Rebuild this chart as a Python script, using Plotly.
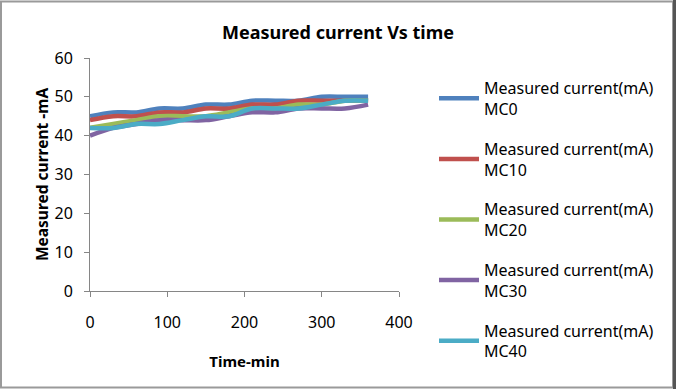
import plotly.graph_objects as go

time_min = [0, 30, 60, 90, 120, 150, 180, 210, 240, 270, 300, 330, 360]
mc0 = [45, 46, 46, 47, 47, 48, 48, 49, 49, 49, 50, 50, 50]
mc10 = [44, 45, 45, 46, 46, 47, 47, 48, 48, 49, 49, 49, 49]
mc20 = [42, 43, 44, 45, 45, 45, 46, 47, 47, 48, 48, 49, 49]
mc30 = [40, 42, 43, 44, 44, 44, 45, 46, 46, 47, 47, 47, 48]
mc40 = [42, 42, 43, 43, 44, 45, 45, 47, 47, 47, 48, 49, 49]

series_names = ["Measured current(mA)<br>MC0", "Measured current(mA)<br>MC10",
                "Measured current(mA)<br>MC20", "Measured current(mA)<br>MC30",
                "Measured current(mA)<br>MC40"]
series_values = [mc0, mc10, mc20, mc30, mc40]
colors = ["#4F81BD", "#C0504D", "#9BBB59", "#8064A2", "#4BACC6"]

FONT = "Noto Sans"
W, H = 676, 389
L, R, T, B = 90, 399, 58, 291

fig = go.Figure()
for i, (name, vals, col) in enumerate(zip(series_names, series_values, colors)):
    fig.add_trace(go.Scatter(x=time_min, y=vals, name=name, mode="lines",
                             line=dict(color=col, width=4.5, shape="spline"),
                             legendgroup=str(i)))

def px_x(px):
    return (px - L) / (R - L)

def px_y(py):
    return (B - py) / (B - T)

fig.update_layout(
    width=W, height=H,
    margin=dict(l=L, r=W - R, t=T, b=H - B, autoexpand=False),
    paper_bgcolor="white", plot_bgcolor="white",
    font=dict(family=FONT, size=15, color="#000000"),
    title=dict(text="<b>Measured current Vs time</b>", x=0.5, xref="container",
               xanchor="center", y=1 - 33 / H, yanchor="middle",
               font=dict(size=18, family=FONT)),
    xaxis=dict(range=[0, 400], tickvals=[0, 100, 200, 300, 400], automargin=False,
               showgrid=False, zeroline=False, showline=True, linecolor="#868686",
               linewidth=1, ticks="outside", ticklen=5, tickcolor="#868686",
               ticklabelstandoff=12,
               title=dict(text="<b>Time-min</b>", font=dict(size=15), standoff=24),
               tickfont=dict(size=16)),
    yaxis=dict(range=[0, 60], tickvals=[0, 10, 20, 30, 40, 50, 60], automargin=False,
               showgrid=False, zeroline=False, showline=True, linecolor="#868686",
               linewidth=1, ticks="outside", ticklen=5, tickcolor="#868686",
               ticklabelstandoff=8,
               title=dict(text="<b>Measured current -mA</b>", font=dict(size=15.5), standoff=2),
               tickfont=dict(size=16)),
    legend=dict(x=px_x(434), y=px_y(71), xanchor="left", yanchor="top",
                font=dict(size=16), tracegroupgap=16, bgcolor="rgba(0,0,0,0)",
                itemwidth=40, maxheight=330),
    shapes=[
        dict(type="rect", xref="paper", yref="paper",
             x0=px_x(1), x1=px_x(673), y0=px_y(1.5), y1=px_y(387.5),
             line=dict(color="#9a9a9a", width=2), layer="below"),
        dict(type="rect", xref="paper", yref="paper",
             x0=px_x(673), x1=px_x(677), y0=px_y(-1), y1=px_y(390),
             line=dict(width=0), fillcolor="#555555", layer="below"),
    ],
)

fig.write_html("out.html", config={"displayModeBar": False},
               post_script="document.body.style.margin='0';document.body.style.overflow='hidden';")
